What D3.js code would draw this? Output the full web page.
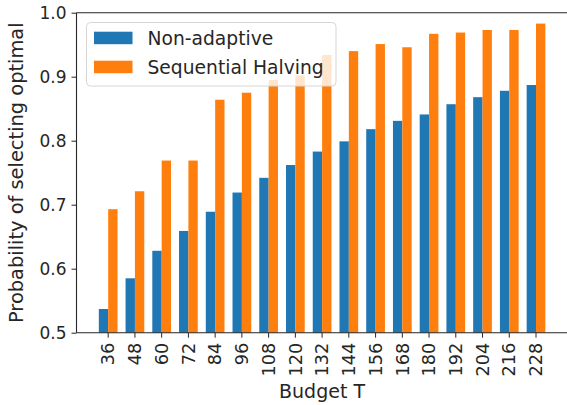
<!DOCTYPE html>
<html>
<head>
<meta charset="utf-8">
<script src="https://cdn.jsdelivr.net/npm/d3@7"></script>
<style>
  html, body { margin: 0; padding: 0; background: #fff; }
  svg { display: block; font-family: "DejaVu Sans", sans-serif; }
</style>
</head>
<body>
<svg id="chart" width="567" height="405"></svg>
<script>
// Budgets on the x axis
const budgets = [36, 48, 60, 72, 84, 96, 108, 120, 132, 144, 156, 168, 180, 192, 204, 216, 228];
// Probability of selecting the optimal arm for each strategy
const nonAdaptive = [0.537, 0.585, 0.628, 0.659, 0.689, 0.719, 0.742, 0.762, 0.783, 0.799, 0.818, 0.831, 0.841, 0.857, 0.868, 0.878, 0.887];
const sequentialHalving = [0.693, 0.721, 0.769, 0.769, 0.864, 0.875, 0.895, 0.902, 0.934, 0.940, 0.951, 0.946, 0.967, 0.969, 0.973, 0.973, 0.983];
const seriesNames = ["Non-adaptive", "Sequential Halving"];
const seriesColors = ["#1f77b4", "#ff7f0e"];
const yTicks = [0.5, 0.6, 0.7, 0.8, 0.9, 1.0];

const svg = d3.select("#chart");
const plotL = 76.5, plotR = 567.7, plotT = 12.7, plotB = 332.7;
const yTickFont = 17, xTickFont = 17.7, labelFont = 19, yLabelFont = 19.4, legendFont = 18.7;
const ink = "#262626";

const x = d3.scaleBand()
  .domain(budgets)
  .range([plotL, plotR])
  .paddingInner(0)
  .paddingOuter(0.685);
const y = d3.scaleLinear().domain([0.5, 1.0]).range([plotB, plotT]);

const barW = x.bandwidth() * 0.35;
const series = [nonAdaptive, sequentialHalving];

// Bars: first series left of the tick, second series right of it
series.forEach((vals, si) => {
  svg.append("g")
    .selectAll("rect")
    .data(budgets.map((b, i) => ({ b, v: vals[i] })))
    .join("rect")
    .attr("x", d => x(d.b) + x.bandwidth() / 2 - barW + si * barW)
    .attr("width", barW)
    .attr("y", d => y(d.v))
    .attr("height", d => y(0.5) - y(d.v))
    .attr("fill", seriesColors[si]);
});

// Y axis
const yAxis = svg.append("g")
  .attr("transform", `translate(${plotL},0)`)
  .call(d3.axisLeft(y).tickValues(yTicks).tickFormat(d3.format(".1f")).tickSize(5).tickPadding(5));
yAxis.select(".domain").remove();
yAxis.selectAll("text").attr("font-size", yTickFont).attr("fill", ink).attr("font-family", "DejaVu Sans");
yAxis.selectAll("line").attr("stroke", ink);

// X axis
const xAxis = svg.append("g")
  .attr("transform", `translate(0,${plotB})`)
  .call(d3.axisBottom(x).tickSize(5).tickPadding(5));
xAxis.select(".domain").remove();
xAxis.selectAll("line").attr("stroke", ink);
xAxis.selectAll("text")
  .attr("font-size", xTickFont).attr("fill", ink).attr("font-family", "DejaVu Sans")
  .attr("transform", "rotate(-90)")
  .attr("x", -10).attr("y", 0).attr("dy", "0.35em")
  .attr("text-anchor", "end");

// Spines
const spine = (x1, y1, x2, y2) => svg.append("line")
  .attr("x1", x1).attr("y1", y1).attr("x2", x2).attr("y2", y2)
  .attr("stroke", ink).attr("stroke-width", 1.1);
spine(plotL, plotT, plotL, plotB);
spine(plotL, plotB, plotR, plotB);
spine(plotL, plotT, plotR, plotT);
spine(plotR, plotT, plotR, plotB);

// Axis titles
svg.append("text")
  .attr("x", 322).attr("y", 398)
  .attr("text-anchor", "middle").attr("font-size", labelFont).attr("fill", ink)
  .text("Budget T");
svg.append("text")
  .attr("transform", `translate(23,${(plotT + plotB) / 2}) rotate(-90)`)
  .attr("text-anchor", "middle").attr("font-size", yLabelFont).attr("fill", ink)
  .text("Probability of selecting optimal");

// Legend
const lg = svg.append("g");
lg.append("rect")
  .attr("x", 86.5).attr("y", 22.5).attr("width", 249.5).attr("height", 63.5)
  .attr("rx", 4).attr("fill", "#fff").attr("fill-opacity", 0.8)
  .attr("stroke", "#d6d6d6").attr("stroke-width", 1);
seriesNames.forEach((name, i) => {
  const yy = 31.7 + i * 29;
  lg.append("rect").attr("x", 94).attr("y", yy).attr("width", 38.5).attr("height", 12.5)
    .attr("fill", seriesColors[i]);
  lg.append("text").attr("x", 147.5).attr("y", yy + 13.5)
    .attr("font-size", legendFont).attr("fill", ink).text(name);
});
</script>
</body>
</html>
